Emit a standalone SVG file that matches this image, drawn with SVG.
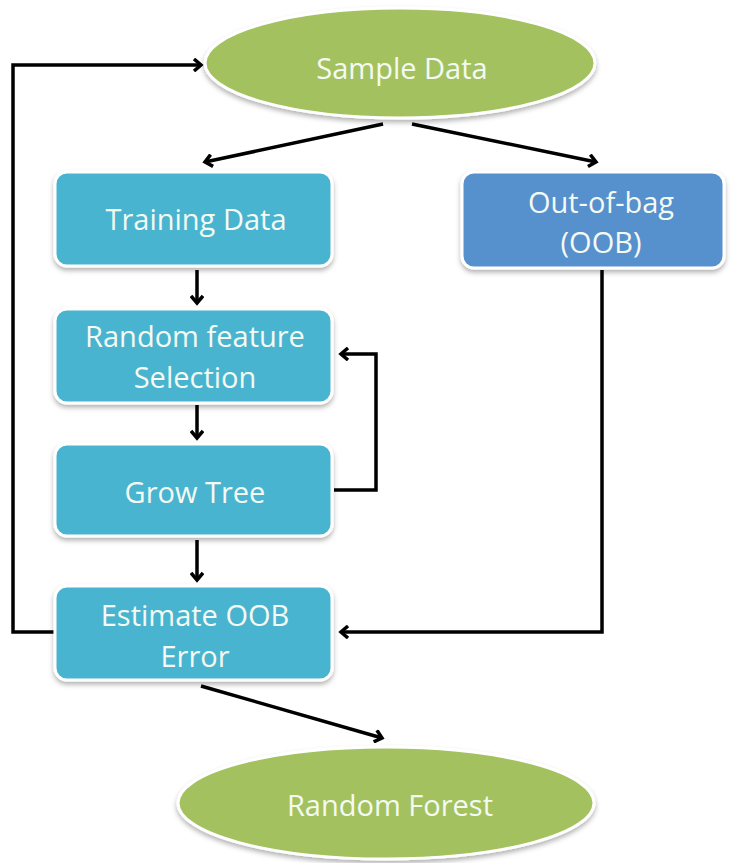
<svg xmlns="http://www.w3.org/2000/svg" width="739" height="863" viewBox="0 0 739 863">
  <style>
    .box { fill: #4ab4d0; stroke: #ffffff; stroke-width: 3; filter: url(#shadow); }
    .oob { fill: #5690cd; stroke: #ffffff; stroke-width: 3; filter: url(#shadow); }
    .oval { fill: #a3c25e; stroke: #ffffff; stroke-width: 3; filter: url(#shadow); }
    .label { font-family: "Open Sans", Lato, "Liberation Sans", sans-serif; font-size: 29px; fill: #f4faf2; text-anchor: middle; }
    .edge { fill: none; stroke: #000000; stroke-width: 3.5; marker-end: url(#chevron); }
  </style>
  <defs>
    <filter id="shadow" x="-10%" y="-10%" width="120%" height="130%">
      <feGaussianBlur in="SourceAlpha" stdDeviation="2.5"/>
      <feOffset dx="0" dy="3" result="blur"/>
      <feFlood flood-color="#000000" flood-opacity="0.3"/>
      <feComposite in2="blur" operator="in"/>
      <feMerge>
        <feMergeNode/>
        <feMergeNode in="SourceGraphic"/>
      </feMerge>
    </filter>
    <marker id="chevron" markerWidth="12" markerHeight="14" refX="9" refY="7" orient="auto" markerUnits="userSpaceOnUse">
      <path d="M2,1 L9,7 L2,13" fill="none" stroke="#000000" stroke-width="3.5" stroke-linejoin="miter"/>
    </marker>
  </defs>
  <rect width="739" height="863" fill="#ffffff"/>

  <g id="connectors">
    <!-- sample split -->
    <path class="edge" d="M383,124 L205,162"/>
    <path class="edge" d="M412,124 L596,162"/>
    <!-- main column -->
    <path class="edge" d="M197,270 L197,303"/>
    <path class="edge" d="M197,405 L197,438"/>
    <path class="edge" d="M197,540 L197,580"/>
    <!-- grow tree loops back to feature selection -->
    <path class="edge" d="M334,490 L376,490 L376,354 L341,354"/>
    <!-- OOB feeds the error estimate -->
    <path class="edge" d="M602,270 L602,632 L341,632"/>
    <!-- error estimate loops back to sampling -->
    <path class="edge" d="M55,632 L13,632 L13,65 L201,65"/>
    <!-- final output -->
    <path class="edge" d="M201,686 L382,738"/>
  </g>

  <g id="sample-data">
    <ellipse class="oval" cx="400" cy="63" rx="195" ry="55"/>
    <text class="label" x="402" y="79">Sample Data</text>
  </g>

  <g id="training-data">
    <rect class="box" x="55" y="172" width="277" height="94" rx="12"/>
    <text class="label" x="196" y="230">Training Data</text>
  </g>

  <g id="out-of-bag">
    <rect class="oob" x="462" y="172" width="262" height="96" rx="12"/>
    <text class="label" x="601" y="213">Out-of-bag</text>
    <text class="label" x="601" y="253">(OOB)</text>
  </g>

  <g id="feature-selection">
    <rect class="box" x="55" y="309" width="277" height="94" rx="12"/>
    <text class="label" x="195" y="347">Random feature</text>
    <text class="label" x="195" y="388">Selection</text>
  </g>

  <g id="grow-tree">
    <rect class="box" x="55" y="444" width="277" height="92" rx="12"/>
    <text class="label" x="195" y="503">Grow Tree</text>
  </g>

  <g id="estimate-error">
    <rect class="box" x="55" y="586" width="277" height="94" rx="12"/>
    <text class="label" x="195" y="626">Estimate OOB</text>
    <text class="label" x="195" y="667">Error</text>
  </g>

  <g id="random-forest">
    <ellipse class="oval" cx="386" cy="803" rx="208" ry="56"/>
    <text class="label" x="390" y="816">Random Forest</text>
  </g>
</svg>
